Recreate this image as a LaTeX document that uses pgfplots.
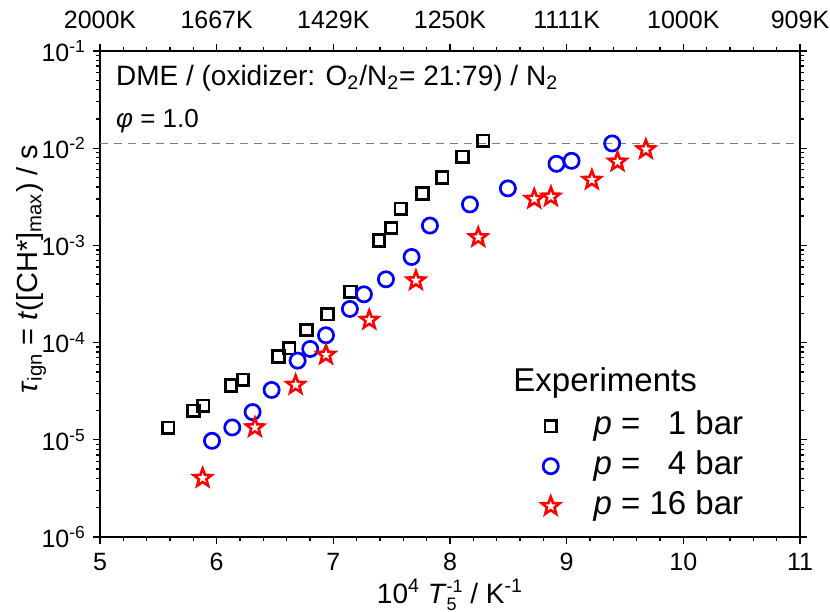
\documentclass[border=0pt]{standalone}
\usepackage{fontspec}
\setmainfont{Liberation Sans}
\usepackage{pgfplots}
\usepackage{pgfplotstable}
\pgfplotsset{compat=1.18}

\pgfdeclareplotmark{ostar}{%
 \pgfpathmoveto{\pgfpointpolar{90}{\pgfplotmarksize}}%
 \pgfpathlineto{\pgfpointpolar{126}{0.42\pgfplotmarksize}}%
 \pgfpathlineto{\pgfpointpolar{162}{\pgfplotmarksize}}%
 \pgfpathlineto{\pgfpointpolar{198}{0.42\pgfplotmarksize}}%
 \pgfpathlineto{\pgfpointpolar{234}{\pgfplotmarksize}}%
 \pgfpathlineto{\pgfpointpolar{270}{0.42\pgfplotmarksize}}%
 \pgfpathlineto{\pgfpointpolar{306}{\pgfplotmarksize}}%
 \pgfpathlineto{\pgfpointpolar{342}{0.42\pgfplotmarksize}}%
 \pgfpathlineto{\pgfpointpolar{18}{\pgfplotmarksize}}%
 \pgfpathlineto{\pgfpointpolar{54}{0.42\pgfplotmarksize}}%
 \pgfpathclose
 \pgfusepathqstroke
}

\pgfplotstableread{
x y
5.585 1.33e-5
5.803 1.99e-5
5.885 2.24e-5
6.123 3.61e-5
6.225 4.14e-5
6.531 7.18e-5
6.622 8.75e-5
6.771 1.35e-4
6.951 1.96e-4
7.148 3.34e-4
7.391 1.12e-3
7.496 1.51e-3
7.579 2.38e-3
7.765 3.43e-3
7.933 5.01e-3
8.108 8.16e-3
8.285 1.19e-2
}\pone

\pgfplotstableread{
x y
5.960 9.77e-6
6.134 1.34e-5
6.308 1.93e-5
6.471 3.26e-5
6.694 6.53e-5
6.802 8.61e-5
6.937 1.19e-4
7.142 2.22e-4
7.262 3.14e-4
7.451 4.48e-4
7.671 7.60e-4
7.828 1.60e-3
8.171 2.64e-3
8.496 3.86e-3
8.913 6.91e-3
9.042 7.42e-3
9.390 1.12e-2
}\pfour

\pgfplotstableread{
x y
5.880 4.04e-6
6.328 1.34e-5
6.677 3.67e-5
6.937 7.48e-5
7.308 1.71e-4
7.708 4.35e-4
8.242 1.21e-3
8.722 3.00e-3
8.865 3.17e-3
9.216 4.71e-3
9.436 7.25e-3
9.679 9.72e-3
}\psixteen

\definecolor{dgray}{RGB}{128,128,128}

\begin{document}
\begin{tikzpicture}
\useasboundingbox (-50pt,-37.4pt) rectangle (365pt,268.5pt);
\begin{axis}[
  width=350pt, height=243pt, scale only axis,
  xmin=5, xmax=11, ymode=log, ymin=1e-6, ymax=1e-1,
  xtick={5,6,7,8,9,10,11}, minor x tick num=4, xtick pos=left,
  ytick={1e-6,1e-5,1e-4,1e-3,1e-2,1e-1},
  yticklabels={10\textsuperscript{-6},10\textsuperscript{-5},10\textsuperscript{-4},10\textsuperscript{-3},10\textsuperscript{-2},10\textsuperscript{-1}},
  ytick pos=both, yticklabel pos=left,
  tick align=outside,
  major tick length=3.5pt, minor tick length=2pt,
  every tick/.style={black, line width=0.65pt},
  axis line style={line width=1pt},
  tick label style={font=\fontsize{12.5}{15}\selectfont},
  xticklabel style={yshift=-1pt},
  /pgf/number format/assume math mode=true,
  xlabel={10\textsuperscript{4} \textit{T}\rlap{\raisebox{-3.5pt}{\fontsize{9}{10}\selectfont 5}}\raisebox{5.5pt}{\fontsize{9}{10}\selectfont -1} / K\textsuperscript{-1}},
  xlabel style={at={(axis description cs:0.5,0)}, anchor=base, yshift=-33pt, font=\fontsize{14}{16}\selectfont},
  ylabel={\textit{τ}\textsubscript{ign} = \textit{t}([CH*]\textsubscript{max}) / s},
  ylabel style={at={(axis description cs:-0.09,0.551)}, anchor=base, font=\fontsize{14.5}{17}\selectfont},
  legend style={at={(axis description cs:0.622,0.272)}, anchor=north west, draw=none, fill=none,
    font=\fontsize{16.5}{19}\selectfont, row sep=3pt, column sep=16pt,
    nodes={inner sep=1pt, text height=11.5pt, text depth=3.5pt}},
  legend cell align=left,
]
\addplot[dgray, line width=0.6pt, dash pattern=on 4pt off 3pt, forget plot] coordinates {(5,0.0112) (11,0.0112)};
\addplot[only marks, black, mark=square, mark size=2.9pt, mark options={line width=1.4pt}] table {\pone};
\addlegendentry{\textit{p} = \phantom{1}1 bar}
\addplot[only marks, blue, mark=o, mark size=3.8pt, mark options={line width=1.35pt}] table {\pfour};
\addlegendentry{\textit{p} = \phantom{1}4 bar}
\addplot[only marks, red, mark=ostar, mark size=4.7pt, mark options={line width=1.3pt, line join=miter}] table {\psixteen};
\addlegendentry{\textit{p} = 16 bar}
\node[anchor=base west, font=\fontsize{16.5}{19}\selectfont, inner sep=0pt] at (rel axis cs:0.59,0.30) {Experiments};
\node[anchor=base west, font=\fontsize{14}{16}\selectfont, inner sep=0pt] at (rel axis cs:0.0224,0.930) {DME / (oxidizer: O\textsubscript{2}/N\textsubscript{2}= 21:79) / N\textsubscript{2}};
\node[anchor=base west, font=\fontsize{13}{15}\selectfont, inner sep=0pt] at (rel axis cs:0.0224,0.8436) {\textit{φ} = 1.0};
\end{axis}
\begin{axis}[
  width=350pt, height=243pt, scale only axis,
  xmin=5, xmax=11, ymin=0, ymax=1,
  axis x line*=top, hide y axis,
  xtick={5,6,7,8,9,10,11},
  xticklabels={2000K,1667K,1429K,1250K,1111K,1000K,909K},
  minor x tick num=4, tick align=outside,
  major tick length=3.5pt, minor tick length=2pt,
  every tick/.style={black, line width=0.65pt},
  x axis line style={-, line width=1pt},
  tick label style={font=\fontsize{12.5}{15}\selectfont},
  xticklabel style={yshift=4pt},
]
\end{axis}
\end{tikzpicture}
\end{document}
